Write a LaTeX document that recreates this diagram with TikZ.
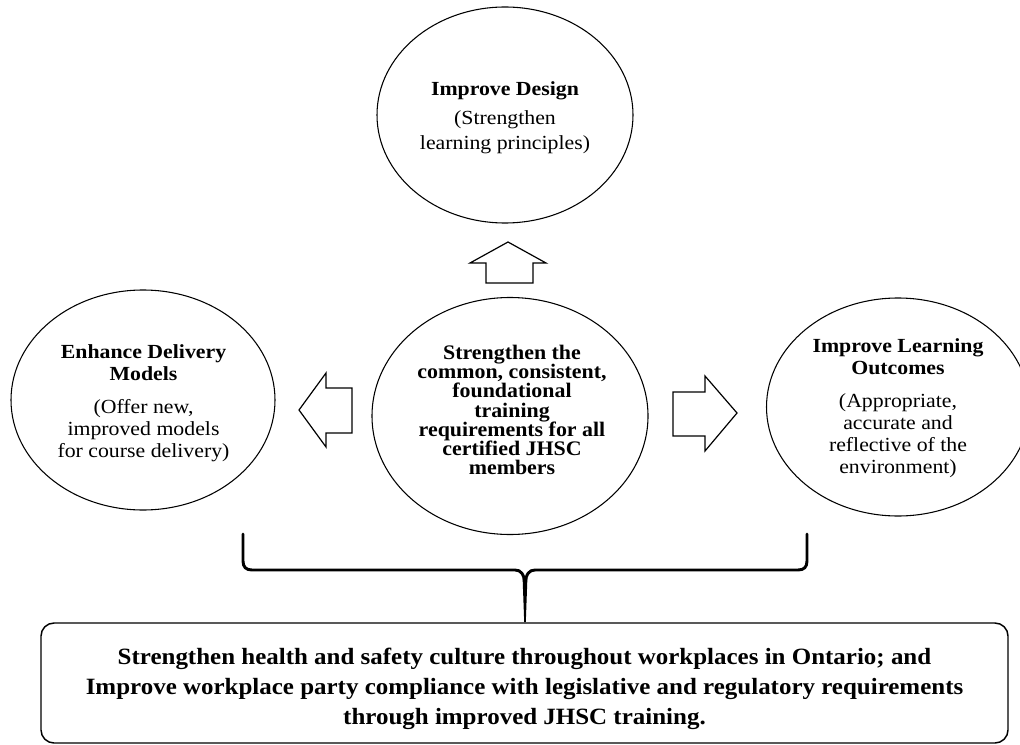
\documentclass[tikz,border=0pt]{standalone}
\usepackage{fontspec}
\setmainfont{Liberation Serif}
\newfontfamily\sidefam[FakeStretch=1.09]{Liberation Serif}
\newfontfamily\corefam[FakeStretch=1.06]{Liberation Serif}
\newfontfamily\goalfam[FakeStretch=1.07]{Liberation Serif}
\usetikzlibrary{shapes.geometric}
\begin{document}
\begin{tikzpicture}[x=0.75pt,y=-0.75pt,
  oval/.style={draw, ellipse, line width=0.8pt, inner sep=0pt},
  sidetext/.style={align=center, inner sep=0pt, font=\sidefam\fontsize{15pt}{16.5pt}\selectfont},
  toptext/.style={align=center, inner sep=0pt, font=\sidefam\fontsize{15pt}{18.5pt}\selectfont},
  coretext/.style={align=center, inner sep=0pt, font=\corefam\fontsize{15.5pt}{14.4pt}\selectfont\bfseries},
  goalbox/.style={draw, rounded corners=9.75pt, line width=1.1pt},
  goaltext/.style={align=center, inner sep=0pt, font=\goalfam\fontsize{17.5pt}{22.5pt}\selectfont\bfseries},
  blockarrow/.style={draw, line width=0.9pt, fill=white, line join=miter},
  bracestroke/.style={line width=2.2pt, line cap=round}
]
\clip (0,0) rectangle (1020,745);
\fill[white] (0,0) rectangle (1020,745);

% ellipses
\node[oval, minimum width={256*0.75pt}, minimum height={216*0.75pt}] (design) at (505,115) {};
\node[toptext] (designtext) at (505,117.5)
  {\textbf{Improve Design}\\[3.5pt](Strengthen\\learning principles)};

\node[oval, minimum width={264*0.75pt}, minimum height={220*0.75pt}] (delivery) at (143,400) {};
\node[sidetext] (deliverytext) at (143.5,403)
  {\textbf{Enhance Delivery}\\\textbf{Models}\\[8pt](Offer new,\\improved models\\for course delivery)};

\node[oval, minimum width={276*0.75pt}, minimum height={237*0.75pt}] (core) at (510,416) {};
\node[coretext] (coretxt) at (512,410)
  {Strengthen the\\common, consistent,\\foundational\\training\\requirements for all\\certified JHSC\\members};

\node[oval, minimum width={263*0.75pt}, minimum height={218*0.75pt}] (outcomes) at (898,407) {};
\node[sidetext] (outcomestext) at (898,408)
  {\textbf{Improve Learning}\\\textbf{Outcomes}\\[8pt](Appropriate,\\accurate and\\reflective of the\\environment)};

% goal box
\node[goalbox, minimum width={967*0.75pt}, minimum height={120*0.75pt}] (goal) at (524.5,683) {};
\node[goaltext] (goaltxt) at (524.5,689)
  {Strengthen health and safety culture throughout workplaces in Ontario; and\\
   Improve workplace party compliance with legislative and regulatory requirements\\
   through improved JHSC training.};

% block arrows
\draw[blockarrow] (486,283) -- (486,263) -- (470,263) -- (508,242) -- (546,263) -- (533,263) -- (533,283) -- cycle;
\draw[blockarrow] (352,388) -- (326,388) -- (326,373) -- (299,410) -- (326,447) -- (326,433) -- (352,433) -- cycle;
\draw[blockarrow] (673,392) -- (705,392) -- (705,376) -- (737,413) -- (705,451) -- (705,436) -- (673,436) -- cycle;

% brace
\coordinate (bl) at (243,534);
\coordinate (br) at (807,534);
\coordinate (bm) at (525,584);
\draw[bracestroke] (bl) -- (243,561) .. controls (243,567) and (246,570) .. (252,570) -- (515,570)
  .. controls (521,570) and (524,574) .. (bm);
\draw[bracestroke] (br) -- (807,561) .. controls (807,567) and (804,570) .. (798,570) -- (535,570)
  .. controls (529,570) and (526,574) .. (bm);
\fill (522.6,578) -- (527.4,578) -- (525.8,622) -- (524.2,622) -- cycle;
\end{tikzpicture}
\end{document}
